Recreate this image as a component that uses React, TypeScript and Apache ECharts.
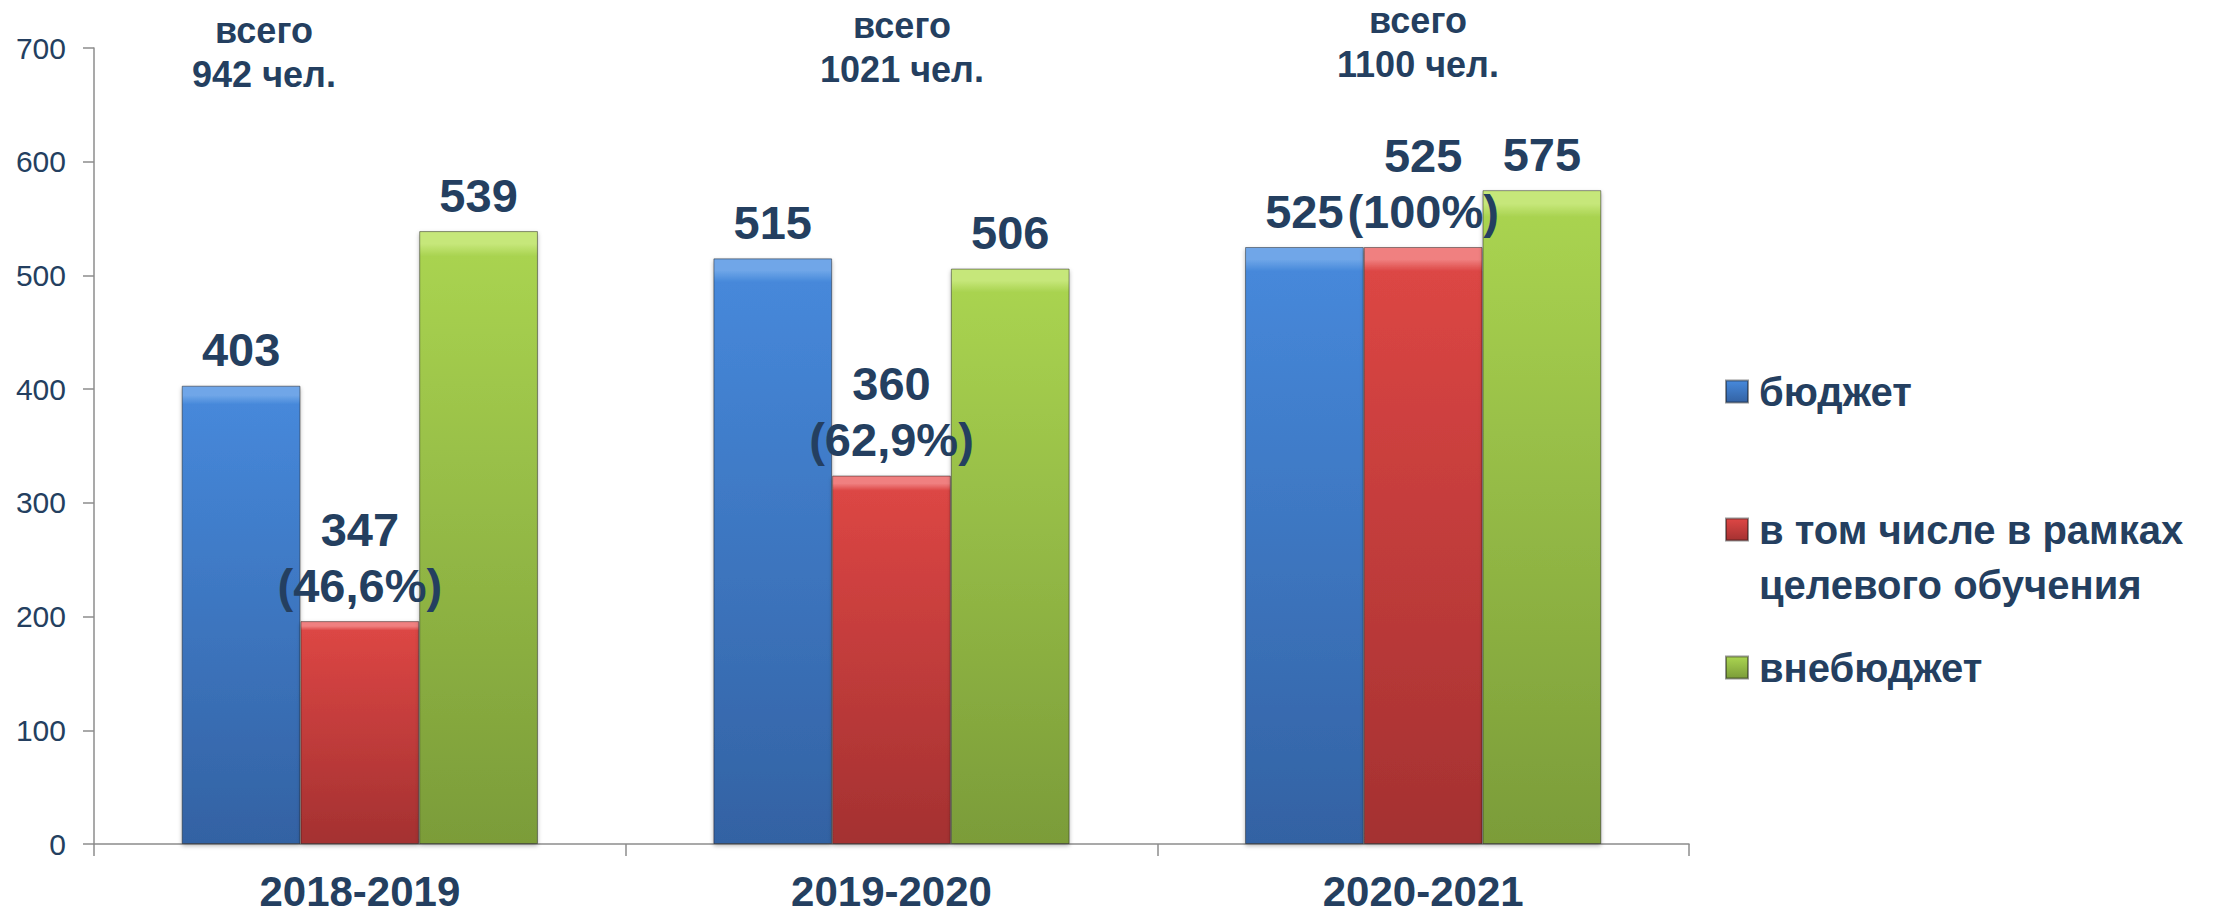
import React, { useEffect, useRef } from "react";
import * as echarts from "echarts";

// ---- data ----
const categories = ["2018-2019", "2019-2020", "2020-2021"];
const seriesNames = ["бюджет", "в том числе в рамках\nцелевого обучения", "внебюджет"];
const budget = [403, 515, 525];
const targetBarHeights = [196, 324, 525];
const targetLabels = [347, 360, 525];
const targetPercents = ["46,6%", "62,9%", "100%"];
const offBudget = [539, 506, 575];
const totals = [942, 1021, 1100];
const yTicks = { min: 0, max: 700, interval: 100 };

// ---- layout (not data) ----
const annotX = [264, 902, 1418];
const annotY = [52, 47, 42];

const TEXT = "#243F60";
const FONT = "'Liberation Sans', Arial, sans-serif";

const grad = (top: string, mid: string, bottom: string) => ({
  type: "linear",
  x: 0,
  y: 0,
  x2: 0,
  y2: 1,
  colorStops: [
    { offset: 0, color: top },
    { offset: 0.02, color: top },
    { offset: 0.04, color: mid },
    { offset: 1, color: bottom },
  ],
});

export default function App() {
  const ref = useRef<HTMLDivElement>(null);
  useEffect(() => {
    if (!ref.current) return;
    const chart = echarts.init(ref.current, undefined, { renderer: "svg" });
    const labelBase = {
      show: true,
      position: "top",
      distance: 8,
      fontSize: 47,
      fontWeight: "bold",
      fontFamily: FONT,
      color: TEXT,
      lineHeight: 56,
    };
    const itemBase = {
      borderColor: "rgba(20,20,20,0.45)",
      borderWidth: 1,
      shadowColor: "rgba(0,0,0,0.3)",
      shadowBlur: 4,
      shadowOffsetY: 2,
    };
    chart.setOption({
      animation: false,
      backgroundColor: "#ffffff",
      grid: { left: 94, right: 530, top: 48, bottom: 69, containLabel: false },
      xAxis: {
        type: "category",
        data: categories,
        axisLine: { show: true, lineStyle: { color: "#8c8c8c", width: 1.5 } },
        axisTick: { show: true, length: 12, lineStyle: { color: "#8c8c8c", width: 1.5 } },
        axisLabel: {
          fontSize: 42,
          fontWeight: "bold",
          fontFamily: FONT,
          color: TEXT,
          margin: 26,
          lineHeight: 42,
        },
        splitLine: { show: false },
      },
      yAxis: {
        type: "value",
        min: yTicks.min,
        max: yTicks.max,
        interval: yTicks.interval,
        axisLine: { show: true, lineStyle: { color: "#8c8c8c", width: 1.5 } },
        axisTick: { show: true, length: 11, lineStyle: { color: "#8c8c8c", width: 1.5 } },
        axisLabel: { fontSize: 30, fontFamily: FONT, color: TEXT, margin: 28 },
        splitLine: { show: false },
      },
      legend: {
        orient: "vertical",
        left: 1725,
        top: 364,
        padding: 0,
        itemWidth: 22,
        itemHeight: 22,
        itemGap: 28,
        icon: "rect",
        selectedMode: false,
        formatter: (name: string) => (name === seriesNames[1] ? "\n" + name : name),
        textStyle: {
          fontSize: 40,
          fontWeight: "bold",
          fontFamily: FONT,
          color: TEXT,
          lineHeight: 55,
          padding: [0, 0, 0, 6],
        },
        data: seriesNames,
      },
      series: [
        {
          name: seriesNames[0],
          type: "bar",
          data: budget,
          barGap: "0%",
          barCategoryGap: "33%",
          itemStyle: { ...itemBase, color: grad("#6fa6e8", "#4688da", "#3362a3") },
          label: { ...labelBase },
        },
        {
          name: seriesNames[1],
          type: "bar",
          data: targetBarHeights,
          barGap: "0%",
          barCategoryGap: "33%",
          itemStyle: { ...itemBase, color: grad("#f08080", "#dc4644", "#a43131") },
          label: {
            ...labelBase,
            formatter: (p: any) => `${targetLabels[p.dataIndex]}\n(${targetPercents[p.dataIndex]})`,
          },
        },
        {
          name: seriesNames[2],
          type: "bar",
          data: offBudget,
          barGap: "0%",
          barCategoryGap: "33%",
          itemStyle: { ...itemBase, color: grad("#c6e77a", "#a9d350", "#7b9c39") },
          label: { ...labelBase },
        },
      ],
      graphic: totals.map((t, i) => ({
        type: "text",
        x: annotX[i],
        y: annotY[i],
        style: {
          text: `всего\n${t} чел.`,
          align: "center",
          verticalAlign: "middle",
          fontSize: 36,
          fontWeight: "bold",
          fontFamily: FONT,
          lineHeight: 44,
          fill: TEXT,
        },
      })),
    });
    return () => chart.dispose();
  }, []);
  return (
    <div
      ref={ref}
      style={{ position: "absolute", left: 0, top: 0, width: 2219, height: 913 }}
    />
  );
}
